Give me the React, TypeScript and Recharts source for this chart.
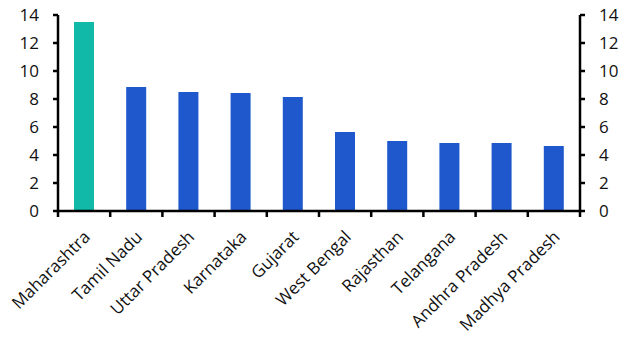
import React from 'react';
import { ComposedChart, Bar, Line, XAxis, YAxis, Cell } from 'recharts';

const states = [
  'Maharashtra',
  'Tamil Nadu',
  'Uttar Pradesh',
  'Karnataka',
  'Gujarat',
  'West Bengal',
  'Rajasthan',
  'Telangana',
  'Andhra Pradesh',
  'Madhya Pradesh',
];
const shares = [13.5, 8.86, 8.5, 8.43, 8.14, 5.64, 5.0, 4.86, 4.86, 4.64];
const yTicks = [0, 2, 4, 6, 8, 10, 12, 14];

const data = states.map((name, i) => ({ name, value: shares[i] }));

const W = 627;
const H = 353;
const LEFT = 58;
const RIGHT_W = 47;
const FONT = "'Open Sans', sans-serif";
const FS = 17;
const band = (W - LEFT - RIGHT_W) / states.length;

const StateTick = (props: any) => {
  const { x, y, payload, index } = props;
  const axisY = y - 8;
  const tx = x + 7;
  const ty = axisY + 27;
  return (
    <g>
      <line x1={x - band / 2} x2={x - band / 2} y1={axisY} y2={axisY + 6} stroke="#000" strokeWidth={2.5} />
      {index === states.length - 1 && (
        <line x1={x + band / 2} x2={x + band / 2} y1={axisY} y2={axisY + 6} stroke="#000" strokeWidth={2.5} />
      )}
      <text
        x={tx}
        y={ty}
        textAnchor="end"
        fontSize={FS}
        fontFamily={FONT}
        fill="#111"
        transform={`rotate(-45, ${tx}, ${ty})`}
      >
        {payload.value}
      </text>
    </g>
  );
};

export default function App() {
  return (
    <div style={{ position: 'absolute', left: 0, top: 0, background: '#fff' }}>
      <ComposedChart width={W} height={H} data={data} margin={{ top: 15, right: 0, left: 0, bottom: 0 }}>
        <XAxis
          dataKey="name"
          interval={0}
          height={H - 15 - 196}
          tickLine={false}
          tickSize={6}
          tickMargin={2}
          axisLine={{ stroke: '#000', strokeWidth: 2.5 }}
          tick={<StateTick />}
        />
        <YAxis
          yAxisId="left"
          orientation="left"
          width={LEFT}
          domain={[0, 14]}
          ticks={yTicks}
          interval={0}
          tickSize={5}
          tickMargin={14}
          axisLine={{ stroke: '#000', strokeWidth: 2.5 }}
          tickLine={{ stroke: '#000', strokeWidth: 2.5 }}
          tick={{ fontSize: FS, fontFamily: FONT, fill: '#111' }}
        />
        <YAxis
          yAxisId="right"
          orientation="right"
          width={RIGHT_W}
          domain={[0, 14]}
          ticks={yTicks}
          interval={0}
          tickSize={5}
          tickMargin={14}
          axisLine={{ stroke: '#000', strokeWidth: 2.5 }}
          tickLine={{ stroke: '#000', strokeWidth: 2.5 }}
          tick={{ fontSize: FS, fontFamily: FONT, fill: '#111' }}
        />
        <Bar dataKey="value" yAxisId="left" barSize={20} isAnimationActive={false}>
          {data.map((d, i) => (
            <Cell key={d.name} fill={i === 0 ? '#10b9a8' : '#1f58cc'} />
          ))}
        </Bar>
        <Line
          dataKey="value"
          yAxisId="right"
          stroke="none"
          dot={false}
          activeDot={false}
          legendType="none"
          isAnimationActive={false}
        />
      </ComposedChart>
    </div>
  );
}
